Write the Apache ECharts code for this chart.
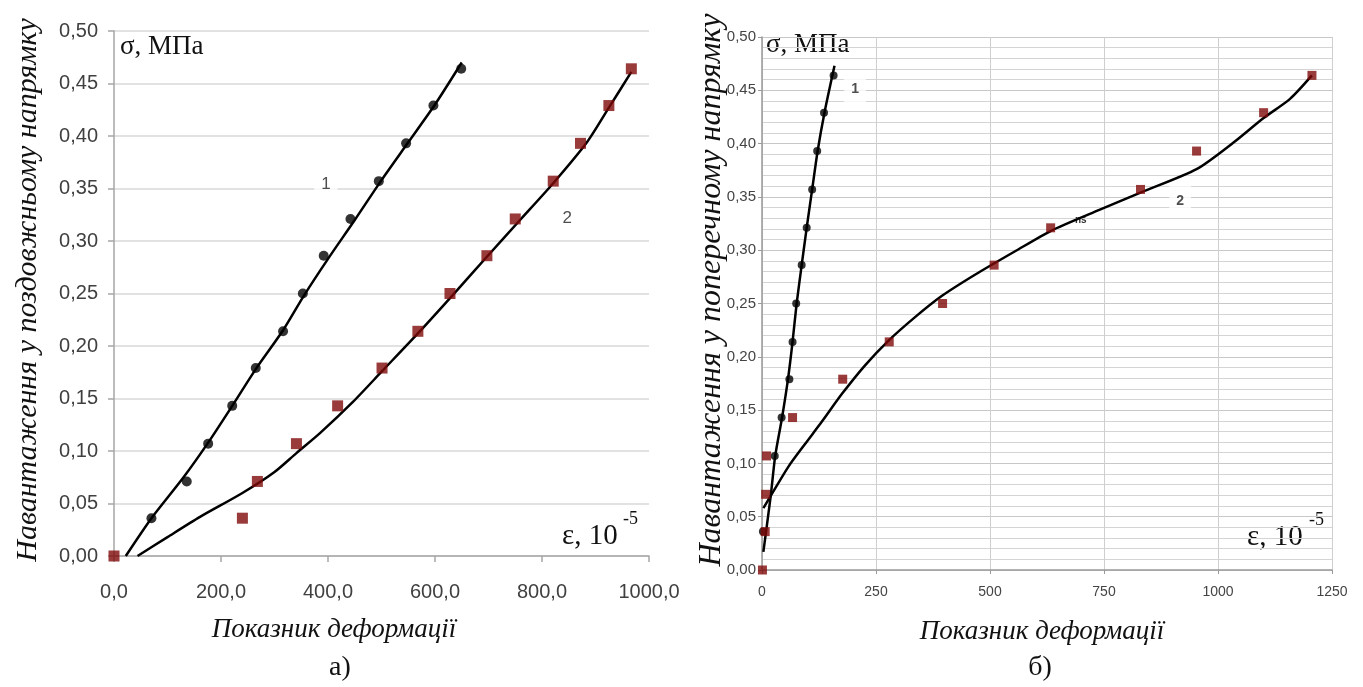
<!DOCTYPE html>
<html>
<head>
<meta charset="utf-8">
<script src="https://cdn.jsdelivr.net/npm/echarts@6/dist/echarts.min.js"></script>
<style>
html, body { margin: 0; padding: 0; background: #fff; }
#chart { width: 1363px; height: 687px; }
</style>
</head>
<body>
<div id="chart"></div>
<script>
// а) поздовжній напрямок
var leftPts1 = [[70, 0.036], [136, 0.071], [176, 0.107], [221, 0.143], [265, 0.179], [316, 0.214], [353, 0.250],
    [392, 0.286], [442, 0.321], [495, 0.357], [546, 0.393], [597, 0.429], [649, 0.464]];
var leftPts2 = [[0, 0.000], [240, 0.036], [268, 0.071], [341, 0.107], [418, 0.143], [501, 0.179], [568, 0.214],
    [628, 0.250], [697, 0.286], [750, 0.321], [821, 0.357], [872, 0.393], [925, 0.429], [967, 0.464]];
var leftFit1 = [[22, 0.000], [70, 0.036], [130, 0.075], [176, 0.108], [221, 0.143], [265, 0.178], [316, 0.215],
    [355, 0.248], [400, 0.283], [450, 0.320], [500, 0.358], [550, 0.394], [600, 0.430], [650, 0.470]];
var leftFit2 = [[44, 0.000], [100, 0.018], [160, 0.037], [240, 0.060], [300, 0.080], [341, 0.098], [385, 0.117],
    [447, 0.147], [501, 0.176], [568, 0.212], [634, 0.249], [697, 0.285], [759, 0.320], [821, 0.355],
    [884, 0.394], [925, 0.427], [967, 0.461]];

// б) поперечний напрямок
var rightPts1 = [[2, 0.036], [28, 0.107], [43, 0.143], [60, 0.179], [67, 0.214], [75, 0.250], [87, 0.286],
    [98, 0.321], [110, 0.357], [121, 0.393], [136, 0.429], [157, 0.464]];
var rightPts2 = [[1, 0.000], [7, 0.036], [8, 0.071], [10, 0.107], [67, 0.143], [177, 0.179], [279, 0.214],
    [396, 0.250], [509, 0.286], [633, 0.321], [830, 0.357], [953, 0.393], [1100, 0.429], [1206, 0.464]];
var rightFit1 = [[3, 0.017], [19, 0.069], [29, 0.107], [44, 0.143], [57, 0.179], [67, 0.214], [76, 0.250],
    [87, 0.286], [98, 0.321], [110, 0.357], [122, 0.393], [137, 0.429], [159, 0.473]];
var rightFit2 = [[3, 0.058], [17, 0.068], [58, 0.097], [94, 0.118], [131, 0.139], [175, 0.165], [226, 0.192],
    [277, 0.215], [335, 0.237], [394, 0.257], [467, 0.277], [555, 0.299], [633, 0.318], [741, 0.338],
    [830, 0.354], [953, 0.376], [1034, 0.401], [1100, 0.424], [1158, 0.442], [1206, 0.464]];

// підписи кривих (у координатах даних)
var leftCurveLabels = [{ name: '1', value: [396, 0.354] }, { name: '2', value: [847, 0.322] }];
var rightCurveLabels = [{ name: '1', value: [204, 0.451] }, { name: '2', value: [917, 0.346] }];

var yMax = 0.5, yStep = 0.05;
var leftXMax = 1000, leftXStep = 200;
var rightXMax = 1250, rightXStep = 250;

var serif = '"Liberation Serif", "DejaVu Serif", serif';
var sans = '"Liberation Sans", Arial, sans-serif';
var red = '#7f0a0a';

function comma(v, d) {
    return v.toFixed(d).replace('.', ',');
}

var chart = echarts.init(document.getElementById('chart'));

function fitLine(data, xi) {
    return {
        type: 'line', xAxisIndex: xi, yAxisIndex: xi, data: data,
        smooth: 0.25, showSymbol: false, symbol: 'none', silent: true, z: 2,
        lineStyle: { color: '#000', width: 2.5 }
    };
}

function labelSeries(data, xi, size) {
    return {
        type: 'scatter', xAxisIndex: xi, yAxisIndex: xi, data: data, symbolSize: 0, z: 4, silent: true,
        label: {
            show: true, position: 'inside', formatter: '{b}', fontSize: size, fontFamily: sans,
            color: '#222', fontWeight: xi ? 'bold' : 'normal', backgroundColor: '#fff', padding: [8, 7]
        }
    };
}

var option = {
    animation: false,
    backgroundColor: '#fff',
    grid: [
        { left: 114, top: 31, width: 535, height: 525 },
        { left: 762, top: 37, width: 570, height: 533 }
    ],
    xAxis: [{
        gridIndex: 0, type: 'value', min: 0, max: leftXMax, interval: leftXStep,
        axisLine: { show: true, lineStyle: { color: '#a6a6a6', width: 1.5 } },
        axisTick: { show: true, length: 6, lineStyle: { color: '#a6a6a6', width: 1.5 } },
        axisLabel: { fontSize: 20, fontFamily: sans, color: '#404040', margin: 26,
            formatter: function(v) { return comma(v, 1); } },
        splitLine: { show: false }
    }, {
        gridIndex: 1, type: 'value', min: 0, max: rightXMax, interval: rightXStep,
        axisLine: { show: true, lineStyle: { color: '#9a9a9a', width: 1.5 } },
        axisTick: { show: true, length: 4, lineStyle: { color: '#9a9a9a' } },
        axisLabel: { fontSize: 14, fontFamily: sans, color: '#444', margin: 15,
            formatter: function(v) { return String(v); } },
        splitLine: { show: true, lineStyle: { color: '#cfcfcf', width: 1 } }
    }],
    yAxis: [{
        gridIndex: 0, type: 'value', min: 0, max: yMax, interval: yStep,
        axisLine: { show: true, lineStyle: { color: '#a6a6a6', width: 1.5 } },
        axisTick: { show: true, length: 6, lineStyle: { color: '#a6a6a6', width: 1.5 } },
        axisLabel: { fontSize: 20, fontFamily: sans, color: '#404040', margin: 16,
            formatter: function(v) { return comma(v, 2); } },
        splitLine: { show: true, lineStyle: { color: '#d9d9d9', width: 1.5 } }
    }, {
        gridIndex: 1, type: 'value', min: 0, max: yMax, interval: yStep,
        axisLine: { show: true, lineStyle: { color: '#9a9a9a', width: 1.5 } },
        axisTick: { show: true, length: 4, lineStyle: { color: '#9a9a9a' } },
        axisLabel: { fontSize: 15, fontFamily: sans, color: '#444', margin: 6,
            formatter: function(v) { return comma(v, 2); } },
        minorTick: { show: false, splitNumber: 5 },
        splitLine: { show: true, lineStyle: { color: '#c8c8c8', width: 1 } },
        minorSplitLine: { show: true, lineStyle: { color: '#d4d4d4', width: 1 } }
    }],
    series: [
        fitLine(leftFit1, 0),
        fitLine(leftFit2, 0),
        fitLine(rightFit1, 1),
        fitLine(rightFit2, 1),
        { type: 'scatter', xAxisIndex: 0, yAxisIndex: 0, data: leftPts1, symbol: 'circle', symbolSize: 10,
            itemStyle: { color: '#000' }, z: 3 },
        { type: 'scatter', xAxisIndex: 0, yAxisIndex: 0, data: leftPts2, symbol: 'rect', symbolSize: 11,
            itemStyle: { color: red }, z: 3 },
        { type: 'scatter', xAxisIndex: 1, yAxisIndex: 1, data: rightPts1, symbol: 'circle', symbolSize: 8,
            itemStyle: { color: '#000' }, z: 3 },
        { type: 'scatter', xAxisIndex: 1, yAxisIndex: 1, data: rightPts2, symbol: 'rect', symbolSize: 9,
            itemStyle: { color: red }, z: 3 },
        labelSeries(leftCurveLabels, 0, 17),
        labelSeries(rightCurveLabels, 1, 14)
    ],
    graphic: [
        { type: 'text', left: 120, top: 33, style: { text: 'σ, МПа', font: '27px ' + serif, fill: '#111' } },
        { type: 'text', left: 766, top: 31, style: { text: 'σ, МПа', font: '27px ' + serif, fill: '#111' } },
        { type: 'text', left: 562, top: 522, style: { text: 'ε, 10', font: '29px ' + serif, fill: '#111' } },
        { type: 'text', left: 623, top: 510, style: { text: '-5', font: '18px ' + serif, fill: '#111' } },
        { type: 'text', left: 1247, top: 523, style: { text: 'ε, 10', font: '29px ' + serif, fill: '#111' } },
        { type: 'text', left: 1309, top: 511, style: { text: '-5', font: '18px ' + serif, fill: '#111' } },
        { type: 'text', left: 1075, top: 215, style: { text: 'ns', font: 'bold 10px ' + sans, fill: '#333' } },
        { type: 'text', x: 334, y: 630, style: { text: 'Показник деформації', font: 'italic 27px ' + serif,
            fill: '#111', textAlign: 'center', textVerticalAlign: 'middle' } },
        { type: 'text', x: 1042, y: 632, style: { text: 'Показник деформації', font: 'italic 27px ' + serif,
            fill: '#111', textAlign: 'center', textVerticalAlign: 'middle' } },
        { type: 'text', x: 340, y: 668, style: { text: 'а)', font: '28px ' + serif,
            fill: '#111', textAlign: 'center', textVerticalAlign: 'middle' } },
        { type: 'text', x: 1040, y: 668, style: { text: 'б)', font: '28px ' + serif,
            fill: '#111', textAlign: 'center', textVerticalAlign: 'middle' } },
        { type: 'text', x: 28, y: 290, rotation: Math.PI / 2,
            style: { text: 'Навантаження у поздовжньому напрямку', font: 'italic 30px ' + serif,
                fill: '#111', textAlign: 'center', textVerticalAlign: 'middle' } },
        { type: 'text', x: 712, y: 290, rotation: Math.PI / 2,
            style: { text: 'Навантаження у поперечному напрямку', font: 'italic 32px ' + serif,
                fill: '#111', textAlign: 'center', textVerticalAlign: 'middle' } }
    ]
};

chart.setOption(option);
</script>
</body>
</html>
